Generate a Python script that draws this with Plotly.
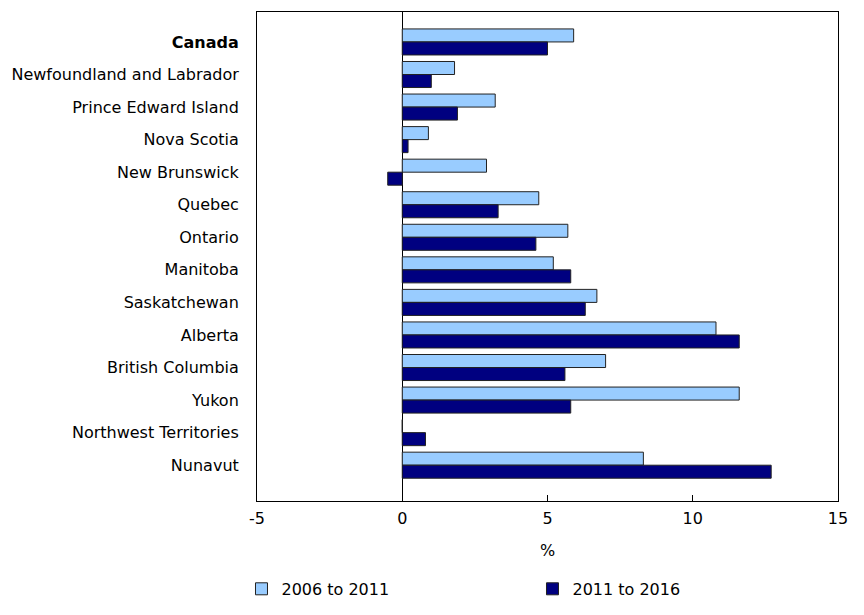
import plotly.graph_objects as go

regions = ["<b>Canada</b>", "Newfoundland and Labrador", "Prince Edward Island", "Nova Scotia",
           "New Brunswick", "Quebec", "Ontario", "Manitoba", "Saskatchewan", "Alberta",
           "British Columbia", "Yukon", "Northwest Territories", "Nunavut"]
growth_2006_2011 = [5.9, 1.8, 3.2, 0.9, 2.9, 4.7, 5.7, 5.2, 6.7, 10.8, 7.0, 11.6, 0.0, 8.3]
growth_2011_2016 = [5.0, 1.0, 1.9, 0.2, -0.5, 3.3, 4.6, 5.8, 6.3, 11.6, 5.6, 5.8, 0.8, 12.7]
series_names = ["2006 to 2011", "2011 to 2016"]
x_ticks = [-5, 0, 5, 10, 15]
x_tick_labels = ["-5", "0", "5", "10", "15"]

font = dict(family="DejaVu Sans, Verdana, sans-serif", size=16, color="#000000")

fig = go.Figure()
fig.add_trace(go.Bar(y=regions, x=growth_2006_2011, orientation="h", name=series_names[0],
                     marker=dict(color="#99ccff", line=dict(color="#222222", width=1))))
fig.add_trace(go.Bar(y=regions, x=growth_2011_2016, orientation="h", name=series_names[1],
                     marker=dict(color="#000080", line=dict(color="#222222", width=1))))

fig.update_layout(
    width=856, height=607,
    margin=dict(l=249, r=26, t=4, b=114, autoexpand=False),
    paper_bgcolor="white", plot_bgcolor="white",
    font=font,
    barmode="group", bargap=0.2, bargroupgap=0,
    showlegend=True,
    legend=dict(orientation="h", x=-0.0267, xanchor="left", y=-0.145, yanchor="top",
                entrywidth=246, entrywidthmode="pixels", font=font,
                traceorder="normal", itemclick=False),
    xaxis=dict(range=[-5, 15], tickvals=x_ticks, ticktext=x_tick_labels, ticks="inside", ticklen=6,
               tickcolor="#000000", showgrid=False, zeroline=True, zerolinecolor="#000000",
               zerolinewidth=1, showline=True, linecolor="#000000", linewidth=1, mirror=True,
               title=dict(text="%", font=font, standoff=17), tickfont=font,
               ticklabelstandoff=3),
    yaxis=dict(autorange=False, range=[14.1, -0.92], type="category", showgrid=False,
               showline=True, linecolor="#000000", linewidth=1, mirror=True, ticks="",
               tickfont=font, ticklabelstandoff=14),
)

fig.write_html("out.html")
